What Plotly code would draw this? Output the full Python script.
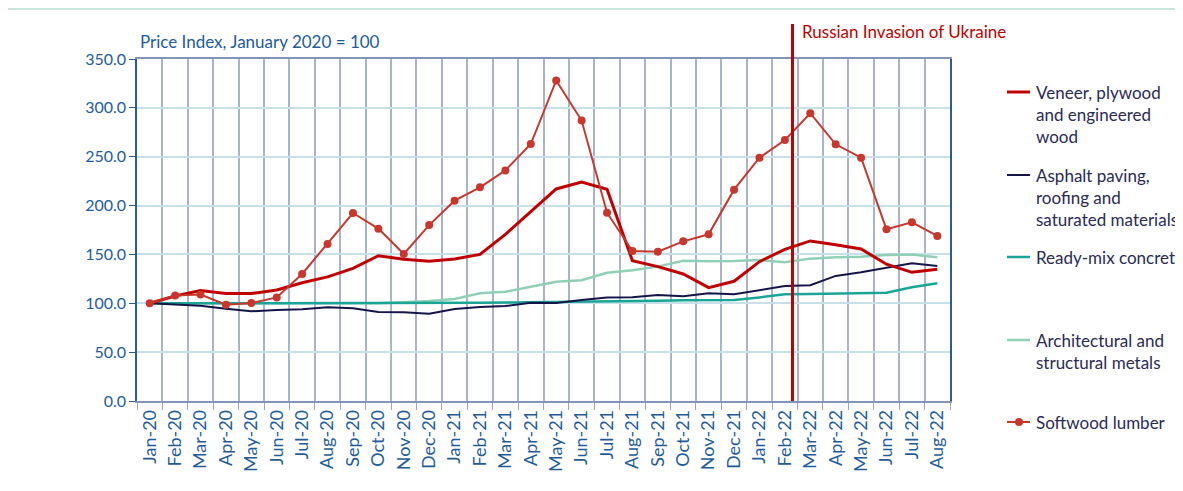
import plotly.graph_objects as go

months = ["Jan-20","Feb-20","Mar-20","Apr-20","May-20","Jun-20","Jul-20","Aug-20","Sep-20","Oct-20","Nov-20","Dec-20",
          "Jan-21","Feb-21","Mar-21","Apr-21","May-21","Jun-21","Jul-21","Aug-21","Sep-21","Oct-21","Nov-21","Dec-21",
          "Jan-22","Feb-22","Mar-22","Apr-22","May-22","Jun-22","Jul-22","Aug-22"]

veneer = [100, 107.5, 113, 110, 110, 113.6, 121, 127, 135.8, 148.7, 145, 143,
          145.3, 150, 170.5, 194, 217, 224, 216.6, 143.6, 137.5, 130, 116, 122.5,
          142.6, 155.2, 163.8, 160, 155.6, 140, 131.7, 134.8]
asphalt = [100, 99, 97.5, 94.5, 91.8, 93.1, 93.8, 95.9, 94.8, 91, 90.7, 89.4,
           94.2, 96.2, 97.2, 100.6, 100.3, 103.4, 105.8, 106.1, 108.5, 107.2, 110.2, 109.2,
           113.6, 117.7, 118.4, 128, 131.7, 136, 140.9, 138.2]
concrete = [100, 100, 100, 100, 100, 100, 100, 100, 100, 100, 100, 100,
            100.3, 100.5, 100.8, 101, 101.2, 101.6, 102, 102.5, 102.7, 103, 103.1, 103.3,
            106, 109.2, 109.5, 109.8, 110.5, 110.9, 116.4, 120.4]
metals = [100, 100, 99.6, 99.3, 99.3, 99.4, 99.5, 99.6, 99.7, 100, 101, 102.3,
          104.4, 110.2, 111.9, 117, 122, 123.5, 131.3, 133.7, 137.5, 143.6, 143, 143.3,
          144.3, 142, 145.7, 147, 147.7, 149.4, 149.8, 147]
softwood = [100, 108, 109, 98.6, 100.3, 106, 130, 160.7, 192.4, 176.4, 150.5, 180,
            205, 218.7, 236, 263, 328, 287, 192.7, 153.5, 152.8, 163.4, 170.6, 216.3,
            249, 267, 294.5, 262.7, 249, 175.7, 182.9, 168.9]

y_ticks = [0, 50, 100, 150, 200, 250, 300, 350]
invasion_x = 25.3

names = ["Veneer, plywood<br>and engineered<br>wood",
         "Asphalt paving,<br>roofing and<br>saturated materials",
         "Ready-mix concrete",
         "Architectural and<br>structural metals",
         "Softwood lumber"]
colors = {"veneer": "#c00000", "asphalt": "#15154a", "concrete": "#1aa596",
          "metals": "#90d0b6", "softwood": "#c8372d"}

x = list(range(len(months)))
fig = go.Figure()
fig.add_trace(go.Scatter(x=x, y=metals, mode="lines", line=dict(color=colors["metals"], width=2.5), showlegend=False))
fig.add_trace(go.Scatter(x=x, y=concrete, mode="lines", line=dict(color=colors["concrete"], width=2.5), showlegend=False))
fig.add_trace(go.Scatter(x=x, y=asphalt, mode="lines", line=dict(color=colors["asphalt"], width=2), showlegend=False))
fig.add_trace(go.Scatter(x=x, y=veneer, mode="lines", line=dict(color=colors["veneer"], width=3), showlegend=False))
fig.add_trace(go.Scatter(x=x, y=softwood, mode="lines+markers", line=dict(color=colors["softwood"], width=2),
                         marker=dict(size=8, color=colors["softwood"]), showlegend=False))

# page body offset of 8px in the browser
OFF = 8
W, H = 1183 - OFF, 491 - OFF
L, R, T, B = 137 - OFF, 950 - OFF, 59 - OFF, 401 - OFF
def px(v):
    return (v - OFF - L) / (R - L)
def py(v):
    return (B - (v - OFF)) / (B - T)

blue = "#1f5c99"
font = "Lato, 'Open Sans', sans-serif"

shapes = []
annotations = []
shapes.append(dict(type="rect", xref="paper", yref="paper", x0=px(7), x1=px(1200), y0=py(510), y1=py(9),
                   line=dict(color="#b5ddd0", width=1.5), layer="below"))
shapes.append(dict(type="line", xref="x", yref="paper", x0=invasion_x, x1=invasion_x, y0=0, y1=py(24),
                   line=dict(color="#c00000", width=3)))
annotations.append(dict(text="Russian Invasion of Ukraine", xref="paper", yref="paper", x=px(800), y=py(32),
                        xanchor="left", yanchor="middle", showarrow=False, font=dict(color="#c00000", size=17, family=font)))
annotations.append(dict(text="Price Index, January 2020 = 100", xref="paper", yref="paper", x=px(138), y=py(41),
                        xanchor="left", yanchor="middle", showarrow=False, font=dict(color=blue, size=17, family=font)))

leg = [(names[0], colors["veneer"], 92, 3, False),
       (names[1], colors["asphalt"], 175, 2, False),
       (names[2], colors["concrete"], 257, 2.5, False),
       (names[3], colors["metals"], 340, 2.5, False),
       (names[4], colors["softwood"], 422, 2, True)]
for name, c, yy, w, mk in leg:
    shapes.append(dict(type="line", xref="paper", yref="paper", x0=px(1007), x1=px(1030), y0=py(yy), y1=py(yy),
                       line=dict(color=c, width=w)))
    if mk:
        shapes.append(dict(type="circle", xref="paper", yref="paper", x0=px(1015), x1=px(1023),
                           y0=py(yy + 4), y1=py(yy - 4), fillcolor=c, line=dict(color=c, width=0)))
    annotations.append(dict(text=name, xref="paper", yref="paper", x=px(1034), y=py(yy - 12.5),
                            xanchor="left", yanchor="top", align="left", showarrow=False,
                            font=dict(color="#2b2b55", size=17, family=font)))

fig.update_layout(
    width=W, height=H, margin=dict(l=L, r=W - R, t=T, b=H - B, autoexpand=False),
    paper_bgcolor="white", plot_bgcolor="white",
    shapes=shapes, annotations=annotations,
    xaxis=dict(range=[-0.5, len(months) - 0.5], tickmode="array", tickvals=x, ticktext=months,
               tickangle=-90, ticks="", showgrid=False, zeroline=False,
               showline=True, linecolor="#8394b8", linewidth=1.5, mirror=True,
               tickfont=dict(color=blue, size=18, family=font), automargin=False,
               minor=dict(tick0=-0.5, dtick=1, ticks="outside", ticklen=7, tickcolor="#9aa6c2",
                          showgrid=True, gridcolor="#aab3ca", gridwidth=1.5)),
    yaxis=dict(range=[0, 350], tickmode="array", tickvals=y_ticks, ticktext=[f"{v:.1f}" for v in y_ticks],
               ticks="outside", ticklen=6, tickcolor="#2a5a98", showgrid=True, gridcolor="#c8e0ea", gridwidth=1.5,
               zeroline=False, showline=True, linecolor="#2a5a98", linewidth=1.5, mirror=True,
               tickfont=dict(color=blue, size=16, family=font), automargin=False),
)

fig.write_html("out.html")
